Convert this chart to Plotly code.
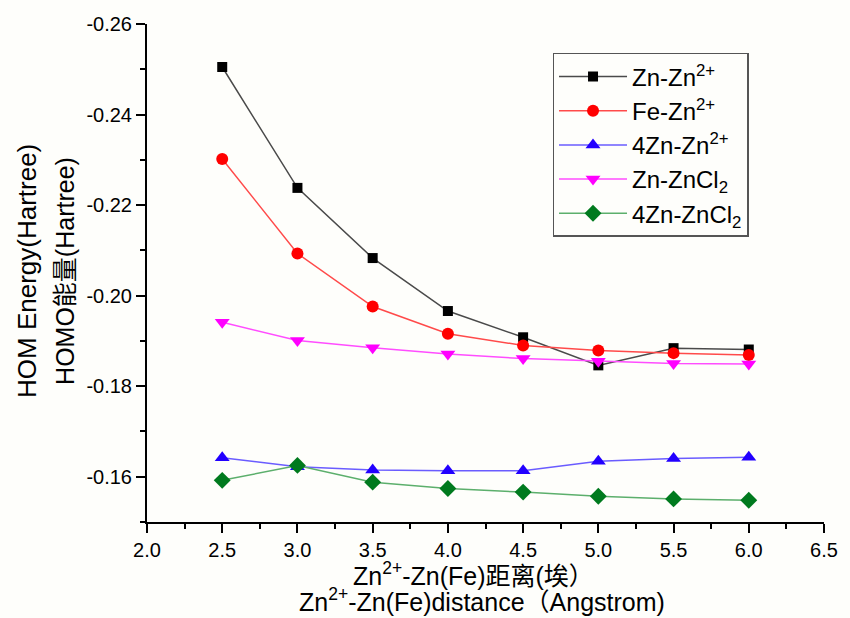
import plotly.graph_objects as go

# Zn2+ - Zn(Fe) separation in angstrom
distance = [2.5, 3.0, 3.5, 4.0, 4.5, 5.0, 5.5, 6.0]

# HOMO energies (Hartree) for each system
zn_zn2 = [-0.2505, -0.2238, -0.2083, -0.1966, -0.1908, -0.1846, -0.1884, -0.1881]
fe_zn2 = [-0.2302, -0.2093, -0.1976, -0.1916, -0.1890, -0.1879, -0.1873, -0.1869]
zn4_zn2 = [-0.1642, -0.1622, -0.1615, -0.1613, -0.1613, -0.1634, -0.1640, -0.1643]
zn_zncl2 = [-0.1941, -0.1901, -0.1885, -0.1871, -0.1861, -0.1855, -0.1850, -0.1849]
zn4_zncl2 = [-0.1592, -0.1625, -0.1588, -0.1574, -0.1566, -0.1557, -0.1551, -0.1548]

series_names = [
    "Zn-Zn<sup>2+</sup>",
    "Fe-Zn<sup>2+</sup>",
    "4Zn-Zn<sup>2+</sup>",
    "Zn-ZnCl<sub>2</sub>",
    "4Zn-ZnCl<sub>2</sub>",
]
series_values = [zn_zn2, fe_zn2, zn4_zn2, zn_zncl2, zn4_zncl2]

# styling: (marker symbol, marker size, marker colour, line colour)
styles = [
    ("square", 10, "#000000", "#4a4a4a"),
    ("circle", 12, "#ff0000", "#ff4a4a"),
    ("triangle-up", 13, "#2200ff", "#6a5cff"),
    ("triangle-down", 13, "#ff00ff", "#ff4dff"),
    ("diamond", 13, "#007a1e", "#5caf6c"),
]

FONT = "Arial, 'Liberation Sans', 'Noto Sans CJK SC', sans-serif"

fig = go.Figure()
for name, vals, (sym, size, mcol, lcol) in zip(series_names, series_values, styles):
    fig.add_trace(go.Scatter(
        x=distance, y=vals, name=name, mode="lines+markers",
        line=dict(color=lcol, width=1.5),
        marker=dict(symbol=sym, size=size, color=mcol, line=dict(width=0)),
    ))

axis_common = dict(
    showline=True, linecolor="black", linewidth=2,
    ticks="outside", ticklen=9, tickwidth=2, tickcolor="black",
    showgrid=False, zeroline=False, mirror=False,
    tickfont=dict(family=FONT, size=20, color="black"),
)

fig.update_xaxes(
    range=[2.0, 6.5], dtick=0.5, tick0=2.0, tickformat=".1f",
    minor=dict(dtick=0.25, ticks="outside", ticklen=5, tickwidth=2, tickcolor="black"),
    **axis_common,
)
fig.update_yaxes(
    range=[-0.15, -0.26],
    tickvals=[-0.26, -0.24, -0.22, -0.20, -0.18, -0.16],
    ticktext=["-0.26", "-0.24", "-0.22", "-0.20", "-0.18", "-0.16"],
    minor=dict(tickvals=[-0.25, -0.23, -0.21, -0.19, -0.17, -0.15],
               ticks="outside", ticklen=5, tickwidth=2, tickcolor="black"),
    **axis_common,
)

# axis titles (two lines each, set as annotations for tight spacing)
title_font = dict(family=FONT, size=25, color="black")
fig.add_annotation(text="HOM Energy(Hartree)", xref="paper", yref="paper",
                   x=-0.178, y=0.505, textangle=-90, showarrow=False,
                   xanchor="center", yanchor="middle",
                   font=dict(family=FONT, size=26, color="black"))
fig.add_annotation(text="HOMO能量(Hartree)", xref="paper", yref="paper",
                   x=-0.122, y=0.505, textangle=-90, showarrow=False,
                   xanchor="center", yanchor="middle", font=title_font)
fig.add_annotation(text="Zn<sup>2+</sup>-Zn(Fe)距离(埃）", xref="paper", yref="paper",
                   x=0.483, y=-0.104, showarrow=False,
                   xanchor="center", yanchor="middle", font=title_font)
fig.add_annotation(text="Zn<sup>2+</sup>-Zn(Fe)distance（Angstrom)", xref="paper", yref="paper",
                   x=0.495, y=-0.157, showarrow=False,
                   xanchor="center", yanchor="middle", font=title_font)

fig.update_layout(
    width=850, height=618,
    margin=dict(l=147, r=17, t=24, b=96),
    paper_bgcolor="#fefefb", plot_bgcolor="#fefefb",
    font=dict(family=FONT, size=20, color="black"),
    showlegend=True,
    legend=dict(
        x=0.599, y=0.942, xanchor="left", yanchor="top",
        bgcolor="#fefefb", bordercolor="#555555", borderwidth=1.5,
        font=dict(family=FONT, size=24, color="black"),
        tracegroupgap=0, itemwidth=68,
    ),
)

fig.write_html("out.html")
